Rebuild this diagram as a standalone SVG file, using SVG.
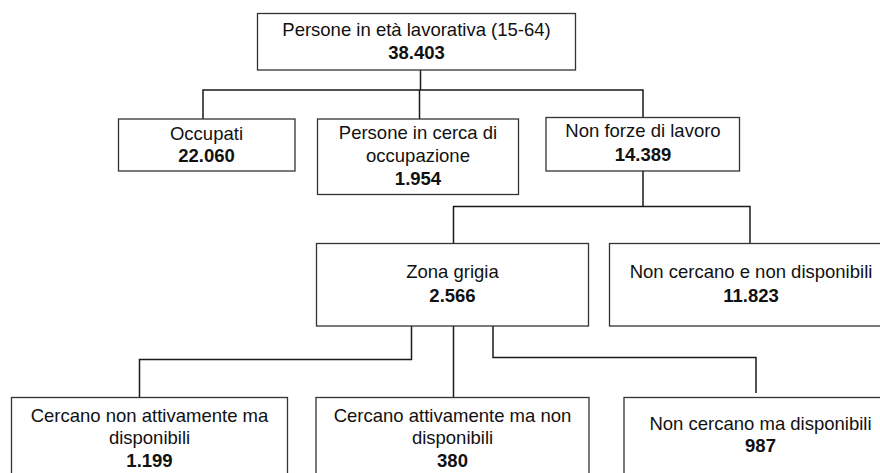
<svg xmlns="http://www.w3.org/2000/svg" width="880" height="473" viewBox="0 0 880 473">
<style>
.box{fill:#fff;stroke:#333;stroke-width:1.3}
.c{fill:none;stroke:#1a1a1a;stroke-width:1.5}
text{font-family:"Liberation Sans",Arial,sans-serif;font-size:18.5px;fill:#111;text-anchor:middle}
.b{font-weight:bold}
</style>
<rect width="880" height="473" fill="#fff"/>
<g id="connectors">
<path class="c" d="M420.5,70 V90 M203,119 V90 H643 V117 M419.5,90 V119"/>
<path class="c" d="M643,171 V206.5 M453.5,243 V206.5 H750 V243"/>
<path class="c" d="M411.5,326 V359.5 H139.5 V397"/>
<path class="c" d="M453.5,326 V397"/>
<path class="c" d="M493,326 V357.5 H756 V393"/>
</g>
<g id="n_top">
<rect class="box" x="257.5" y="13.5" width="318" height="56.5"/>
<text x="416.5" y="35.5">Persone in età lavorativa (15-64)</text>
<text class="b" x="416.5" y="59">38.403</text>
</g>
<g id="n_occupati">
<rect class="box" x="118.5" y="119" width="176.5" height="52"/>
<text x="206.5" y="139.5">Occupati</text>
<text class="b" x="206.5" y="162">22.060</text>
</g>
<g id="n_cerca">
<rect class="box" x="317.5" y="119" width="201" height="75.5"/>
<text x="418" y="138.5">Persone in cerca di</text>
<text x="418" y="161.5">occupazione</text>
<text class="b" x="418" y="184.5">1.954</text>
</g>
<g id="n_nonforze">
<rect class="box" x="546" y="117.5" width="193.5" height="53.5"/>
<text x="643" y="137">Non forze di lavoro</text>
<text class="b" x="643" y="161">14.389</text>
</g>
<g id="n_zona">
<rect class="box" x="316.5" y="243.5" width="272" height="82.5"/>
<text x="452.5" y="277.5">Zona grigia</text>
<text class="b" x="452.5" y="301.5">2.566</text>
</g>
<g id="n_noncnd">
<rect class="box" x="609.5" y="243.5" width="283" height="82.5"/>
<text x="751" y="277.5">Non cercano e non disponibili</text>
<text class="b" x="751" y="301.5">11.823</text>
</g>
<g id="n_cna">
<rect class="box" x="11.5" y="397.5" width="276" height="90"/>
<text x="149.5" y="421.5">Cercano non attivamente ma</text>
<text x="149.5" y="444">disponibili</text>
<text class="b" x="149.5" y="467">1.199</text>
</g>
<g id="n_can">
<rect class="box" x="316" y="397.5" width="273" height="90"/>
<text x="452.5" y="421.5">Cercano attivamente ma non</text>
<text x="452.5" y="444">disponibili</text>
<text class="b" x="452.5" y="467">380</text>
</g>
<g id="n_ncmd">
<rect class="box" x="624" y="397.5" width="273" height="90"/>
<text x="760.5" y="430">Non cercano ma disponibili</text>
<text class="b" x="760.5" y="452">987</text>
</g>
</svg>
